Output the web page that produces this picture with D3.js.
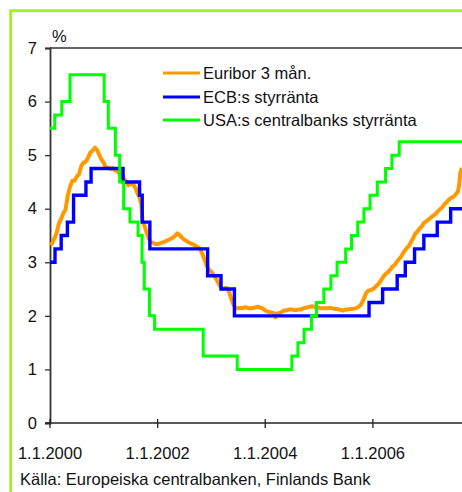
<!DOCTYPE html>
<html><head><meta charset="utf-8">
<script src="https://cdn.jsdelivr.net/npm/d3@7"></script>
<style>
html,body{margin:0;padding:0;background:#fff;}
svg{display:block;}
text{font-family:"Liberation Sans",Arial,sans-serif;fill:#111;}
</style></head>
<body>
<svg id="chart" width="462" height="492"></svg>
<script>
// ---- data ----
const seriesNames = ["Euribor 3 mån.", "ECB:s styrränta", "USA:s centralbanks styrränta"];
const seriesColors = ["#ff9900", "#0000ff", "#00ff00"];
const yTicks = [0, 1, 2, 3, 4, 5, 6, 7];
const xTickLabels = ["1.1.2000", "1.1.2002", "1.1.2004", "1.1.2006"];
const xTickDates = ["2000-01-01", "2002-01-01", "2004-01-01", "2006-01-01"];
const endDate = "2007-08-29";

const ecbDates = ["2000-01-01","2000-02-04","2000-03-17","2000-04-28","2000-06-09","2000-09-01","2000-10-06",
  "2001-05-11","2001-08-31","2001-09-18","2001-11-09","2002-12-06","2003-03-07","2003-06-06",
  "2005-12-06","2006-03-08","2006-06-15","2006-08-09","2006-10-11","2006-12-13","2007-03-14","2007-06-13"];
const ecbRates = [3.00,3.25,3.50,3.75,4.25,4.50,4.75,4.50,4.25,3.75,3.25,2.75,2.50,2.00,
  2.25,2.50,2.75,3.00,3.25,3.50,3.75,4.00];

const fedDates = ["2000-01-01","2000-02-02","2000-03-21","2000-05-16","2001-01-03","2001-01-31","2001-03-20",
  "2001-04-18","2001-05-15","2001-06-27","2001-08-21","2001-09-17","2001-10-02","2001-11-06","2001-12-11",
  "2002-11-06","2003-06-25","2004-06-30","2004-08-10","2004-09-21","2004-11-10","2004-12-14","2005-02-02",
  "2005-03-22","2005-05-03","2005-06-30","2005-08-09","2005-09-20","2005-11-01","2005-12-13","2006-01-31",
  "2006-03-28","2006-05-10","2006-06-29"];
const fedRates = [5.50,5.75,6.00,6.50,6.00,5.50,5.00,4.50,4.00,3.75,3.50,3.00,2.50,2.00,1.75,
  1.25,1.00,1.25,1.50,1.75,2.00,2.25,2.50,2.75,3.00,3.25,3.50,3.75,4.00,4.25,4.50,4.75,5.00,5.25];

const euriborDates = [
 "2000-01-03","2000-01-17","2000-02-01","2000-02-15","2000-03-01","2000-03-15","2000-04-01","2000-04-15",
 "2000-05-01","2000-05-15","2000-06-01","2000-06-15","2000-07-01","2000-07-15","2000-08-01","2000-08-15",
 "2000-09-01","2000-09-15","2000-10-01","2000-10-15","2000-11-01","2000-11-15","2000-12-01","2000-12-15",
 "2001-01-01","2001-01-15","2001-02-01","2001-02-15","2001-03-01","2001-03-15","2001-04-01","2001-04-15",
 "2001-05-01","2001-05-15","2001-06-01","2001-06-15","2001-07-01","2001-07-15","2001-08-01","2001-08-15",
 "2001-09-01","2001-09-12","2001-09-20","2001-10-01","2001-10-15","2001-11-01","2001-11-15","2001-12-01","2001-12-15",
 "2002-01-01","2002-01-15","2002-02-01","2002-02-15","2002-03-01","2002-03-15","2002-04-01","2002-04-15",
 "2002-05-01","2002-05-15","2002-06-01","2002-06-15","2002-07-01","2002-07-15","2002-08-01","2002-08-15",
 "2002-09-01","2002-09-15","2002-10-01","2002-10-15","2002-11-01","2002-11-15","2002-12-01","2002-12-15",
 "2003-01-01","2003-01-15","2003-02-01","2003-02-15","2003-03-01","2003-03-15","2003-04-01","2003-04-15",
 "2003-05-01","2003-05-15","2003-06-01","2003-06-15","2003-07-01","2003-07-15","2003-08-01","2003-08-15",
 "2003-09-01","2003-09-15","2003-10-01","2003-10-15","2003-11-01","2003-11-15","2003-12-01","2003-12-15",
 "2004-01-01","2004-01-15","2004-02-01","2004-02-15","2004-03-01","2004-03-10","2004-03-20","2004-04-01","2004-04-15",
 "2004-05-01","2004-05-15","2004-06-01","2004-06-15","2004-07-01","2004-07-15","2004-08-01","2004-08-15",
 "2004-09-01","2004-09-15","2004-10-01","2004-10-15","2004-11-01","2004-11-15","2004-12-01","2004-12-15",
 "2005-01-01","2005-01-15","2005-02-01","2005-02-15","2005-03-01","2005-03-15","2005-04-01","2005-04-15",
 "2005-05-01","2005-05-15","2005-06-01","2005-06-15","2005-07-01","2005-07-15","2005-08-01","2005-08-15",
 "2005-09-01","2005-09-15","2005-10-01","2005-10-15","2005-11-01","2005-11-15","2005-12-01","2005-12-15",
 "2006-01-01","2006-01-15","2006-02-01","2006-02-15","2006-03-01","2006-03-15","2006-04-01","2006-04-15",
 "2006-05-01","2006-05-15","2006-06-01","2006-06-15","2006-07-01","2006-07-15","2006-08-01","2006-08-15",
 "2006-09-01","2006-09-15","2006-10-01","2006-10-15","2006-11-01","2006-11-15","2006-12-01","2006-12-15",
 "2007-01-01","2007-01-15","2007-02-01","2007-02-15","2007-03-01","2007-03-15","2007-04-01","2007-04-15",
 "2007-05-01","2007-05-15","2007-06-01","2007-06-15","2007-07-01","2007-07-15","2007-08-01","2007-08-10",
 "2007-08-18","2007-08-28"];
const euriborValues = [
 3.32,3.36,3.45,3.55,3.72,3.80,3.92,3.98,
 4.25,4.40,4.52,4.52,4.60,4.64,4.80,4.86,
 4.88,4.95,5.05,5.08,5.14,5.10,5.00,4.92,
 4.85,4.76,4.77,4.74,4.76,4.72,4.70,4.66,
 4.66,4.58,4.50,4.44,4.46,4.46,4.40,4.30,
 4.20,4.08,3.75,3.70,3.58,3.45,3.38,3.36,3.34,
 3.34,3.35,3.37,3.38,3.40,3.42,3.44,3.46,
 3.50,3.54,3.50,3.46,3.42,3.40,3.37,3.35,
 3.33,3.31,3.28,3.25,3.15,3.05,2.93,2.86,
 2.82,2.76,2.70,2.62,2.55,2.50,2.52,2.52,
 2.45,2.32,2.20,2.14,2.14,2.15,2.14,2.16,
 2.15,2.14,2.14,2.15,2.16,2.17,2.15,2.14,
 2.10,2.08,2.07,2.06,2.05,1.97,2.04,2.05,2.06,
 2.09,2.10,2.11,2.12,2.12,2.11,2.11,2.12,
 2.12,2.14,2.15,2.16,2.17,2.18,2.17,2.16,
 2.15,2.14,2.14,2.14,2.14,2.15,2.14,2.13,
 2.13,2.12,2.11,2.10,2.12,2.12,2.13,2.13,
 2.14,2.15,2.18,2.22,2.32,2.42,2.47,2.48,
 2.50,2.53,2.58,2.62,2.68,2.74,2.79,2.82,
 2.87,2.92,2.96,3.02,3.07,3.12,3.20,3.25,
 3.30,3.37,3.45,3.53,3.58,3.63,3.68,3.74,
 3.77,3.80,3.84,3.87,3.90,3.94,3.99,4.02,
 4.08,4.12,4.17,4.20,4.22,4.26,4.32,4.45,
 4.68,4.76];

// ---- chart ----
const svg = d3.select("#chart");
const parse = d3.timeParse("%Y-%m-%d");
const W = 462, H = 492;
const mLeft = 50, mRight = 462, mTop = 48, mBottom = 423;

// frame
svg.append("rect").attr("x", 10.7).attr("y", 10.7).attr("width", 500).attr("height", 520)
  .attr("fill", "none").attr("stroke", "#a3ee2a").attr("stroke-width", 2.8);

const x = d3.scaleTime().domain([parse("2000-01-01"), parse(endDate)]).range([mLeft, mRight]);
const y = d3.scaleLinear().domain([0, 7]).range([mBottom, mTop]);

// plot top border
svg.append("line").attr("x1", mLeft).attr("x2", W).attr("y1", mTop).attr("y2", mTop)
  .attr("stroke", "#666").attr("stroke-width", 2);

// y axis
const yAxis = svg.append("g").attr("transform", `translate(${mLeft},0)`)
  .call(d3.axisLeft(y).tickValues(yTicks).tickFormat(d3.format("d")).tickSize(5).tickPadding(8));
yAxis.select(".domain").attr("stroke", "#333").attr("stroke-width", 1.8);
yAxis.selectAll(".tick line").attr("stroke", "#333").attr("stroke-width", 1.3);
yAxis.selectAll("text").style("font-size", "16.5px").attr("fill", "#111")
  .style("font-family", "'Liberation Sans', Arial, sans-serif");

// x axis
const xg = svg.append("g").attr("transform", `translate(0,${mBottom})`);
xg.append("line").attr("x1", mLeft - 5).attr("x2", W).attr("y1", 0).attr("y2", 0)
  .attr("stroke", "#222").attr("stroke-width", 1.5);
const xt = xg.selectAll("g.xt").data(xTickDates).enter().append("g")
  .attr("transform", d => `translate(${x(parse(d))},0)`);
xt.append("line").attr("y1", -4).attr("y2", 5).attr("stroke", "#222").attr("stroke-width", 1.3);
xt.append("text").attr("y", 36).attr("text-anchor", "middle").style("font-size", "16.5px")
  .text((d, i) => xTickLabels[i]);

// unit
svg.append("text").attr("x", 52).attr("y", 42).style("font-size", "16.5px").text("%");

// lines
svg.append("clipPath").attr("id", "clip").append("rect")
  .attr("x", mLeft).attr("y", mTop - 5).attr("width", W - mLeft).attr("height", mBottom - mTop + 5);
const plot = svg.append("g").attr("clip-path", "url(#clip)");

const eur = euriborDates.map((d, i) => [parse(d), euriborValues[i]]);
const ecb = ecbDates.map((d, i) => [parse(d), ecbRates[i]]).concat([[parse(endDate), ecbRates[ecbRates.length - 1]]]);
const fed = fedDates.map((d, i) => [parse(d), fedRates[i]]).concat([[parse(endDate), fedRates[fedRates.length - 1]]]);

const lineSmooth = d3.line().x(d => x(d[0])).y(d => y(d[1]));
const lineStep = d3.line().x(d => x(d[0])).y(d => y(d[1])).curve(d3.curveStepAfter);

plot.append("path").attr("d", lineSmooth(eur)).attr("fill", "none").attr("stroke", seriesColors[0])
  .attr("stroke-width", 4).attr("stroke-linejoin", "round");
plot.append("path").attr("d", lineStep(ecb)).attr("fill", "none").attr("stroke", seriesColors[1])
  .attr("stroke-width", 3.4);
plot.append("path").attr("d", lineStep(fed)).attr("fill", "none").attr("stroke", seriesColors[2])
  .attr("stroke-width", 3);

// legend
const lg = svg.append("g");
const ly = [73, 97, 120];
seriesNames.forEach((n, i) => {
  lg.append("line").attr("x1", 163).attr("x2", 200).attr("y1", ly[i]).attr("y2", ly[i])
    .attr("stroke", seriesColors[i]).attr("stroke-width", 3);
  lg.append("text").attr("x", 203).attr("y", ly[i]).attr("dy", "0.36em").style("font-size", "16.5px").text(n);
});

// source
svg.append("text").attr("x", 20).attr("y", 485).style("font-size", "16.5px")
  .text("Källa: Europeiska centralbanken, Finlands Bank");
</script>
</body></html>
